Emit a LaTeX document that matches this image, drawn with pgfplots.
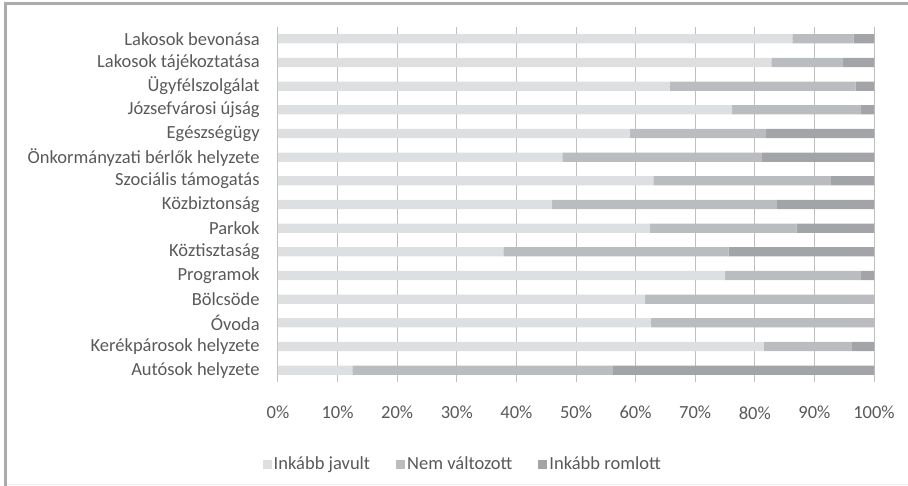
\documentclass[border=0pt]{standalone}
\usepackage{pgfplots}
\pgfplotsset{compat=1.18}
\usepackage{pgfplotstable}
\usepackage{fontspec}
\setmainfont{Carlito}
\definecolor{cJ}{HTML}{DEDFE0}
\definecolor{cN}{HTML}{BBBCBF}
\definecolor{cR}{HTML}{A3A4A7}
\definecolor{grid}{HTML}{DCDCDC}
\definecolor{txt}{HTML}{595959}
\definecolor{frame}{HTML}{ABABAB}
\pgfplotstableread{
cat j n r
0 86.3 10.3 3.4
1 82.8 12.0 5.2
2 65.7 31.2 3.1
3 76.2 21.5 2.3
4 59.1 22.8 18.1
5 47.7 33.4 18.9
6 63.0 29.7 7.3
7 46.0 37.7 16.3
8 62.4 24.6 13.0
9 37.8 37.8 24.4
10 75.0 22.8 2.2
11 61.6 38.4 0
12 62.5 37.5 0
13 81.5 14.8 3.7
14 12.5 43.7 43.8
}\data
\begin{document}
\fontsize{18.5}{22}\selectfont
\begin{tikzpicture}
\useasboundingbox (0,0) rectangle (908pt,486pt);
\draw[frame, line width=3pt] (5.5pt,0pt) -- (5.5pt,482.5pt) -- (908pt,482.5pt);
\draw[black!7, line width=1pt] (7pt,1pt) -- (908pt,1pt);
\begin{axis}[
  at={(278pt,104pt)}, anchor=south west,
  scale only axis, width=596pt, height=355pt,
  xbar stacked, bar width=9.3pt,
  xmin=0, xmax=100, ymin=-0.5, ymax=14.5,
  y dir=reverse,
  xtick={0,10,...,100},
  xticklabel={\pgfmathprintnumber{\tick}\%},
  /pgf/number format/assume math mode=true,
  ytick={0,...,14},
  yticklabels={Lakosok bevonása,Lakosok tájékoztatása,Ügyfélszolgálat,Józsefvárosi újság,Egészségügy,Önkormányzati bérlők helyzete,Szociális támogatás,Közbiztonság,Parkok,Köztisztaság,Programok,Bölcsöde,Óvoda,Kerékpárosok helyzete,Autósok helyzete},
  xmajorgrids, major grid style={grid, line width=1pt},
  axis line style={draw=none},
  major tick length=0pt,
  tick label style={font=\fontsize{18.5}{22}\selectfont, text=txt},
  xticklabel style={yshift=-18pt},
  yticklabel style={xshift=-12pt},
  legend style={at={(0.31,-0.232)}, anchor=center, draw=none, fill=none,
    legend columns=3, font=\fontsize{18.5}{22}\selectfont, text=txt,
    /tikz/every even column/.append style={column sep=24pt}},
  legend image code/.code={\path[#1, draw=none] (0pt,-4.5pt) rectangle (9pt,4.5pt);},
]
\addplot[fill=cJ, draw=none] table[x=j, y=cat] {\data};
\addplot[fill=cN, draw=none] table[x=n, y=cat] {\data};
\addplot[fill=cR, draw=none] table[x=r, y=cat] {\data};
\legend{Inkább javult, Nem változott, Inkább romlott}
\end{axis}
\end{tikzpicture}
\end{document}
